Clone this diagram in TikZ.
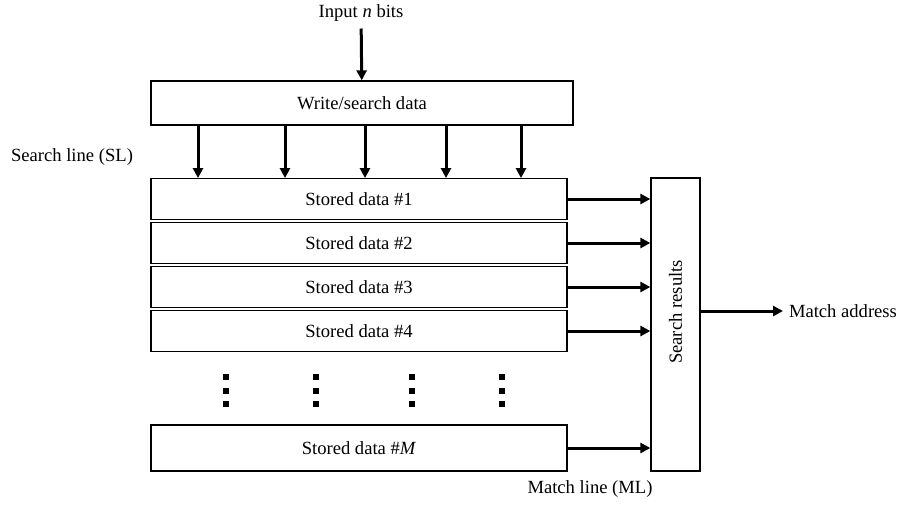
\documentclass[tikz,border=0pt]{standalone}
\usepackage{fontspec}
\setmainfont{Liberation Serif}
\usepackage{tikz}
\usetikzlibrary{calc,arrows.meta}
\definecolor{ink}{HTML}{000000}
\tikzset{
  box/.style={draw=ink, line width=0.65pt, inner sep=0pt},
  row/.style={box, minimum width=208pt, minimum height=20.3pt},
  arr/.style={draw=ink, line width=1.5pt, -{Triangle[length=5pt,width=5pt]}},
  lab/.style={text=ink, font=\fontsize{9.3}{11}\selectfont},
  dotsq/.style={fill=ink},
}
\begin{document}
\begin{tikzpicture}[x=0.5pt, y=-0.5pt]
  \useasboundingbox (0,0) rectangle (898,505);
  % top part
  \node[lab] (in) at (361,13) {Input \textit{n} bits};
  \node[box, lab, minimum width=211pt, minimum height=22pt] (ws) at (362,103) {Write/search data};
  \draw[arr] (in) -- (ws);
  \node[lab] (sl) at (72,157) {Search line (SL)};
  % stored rows
  \foreach \i/\y in {1/199,2/243,3/287,4/331}
    \node[row, lab] (r\i) at (359,\y) {Stored data \#\i};
  \node[row, lab, minimum height=23pt] (rM) at (359,448) {Stored data \#\textit{M}};
  % search lines
  \foreach \x [count=\k] in {198,285,365,446,521} {
    \coordinate (s\k) at (\x,0);
    \draw[arr] (ws.south -| s\k) -- (r1.north -| s\k);
  }
  % dots between rows
  \foreach \x in {226,316,412,502}
    \foreach \y in {377,391,404}
      \fill[dotsq] (\x-3,\y-3) rectangle (\x+3,\y+3);
  % search results block
  \node[box, minimum width=24.5pt, minimum height=146.5pt] (sr) at (675.5,324.5) {};
  \node[lab, rotate=90] (srlab) at (675.5,312) {Search results};
  \foreach \i in {1,2,3,4,M}
    \draw[arr] (r\i.east) -- (r\i.east -| sr.west);
  \node[lab, anchor=west, inner sep=2.8pt] (ma) at (783,311) {Match address};
  \draw[arr] (sr.east |- ma.west) -- (ma.west);
  \node[lab] (ml) at (590,489) {Match line (ML)};
\end{tikzpicture}
\end{document}
